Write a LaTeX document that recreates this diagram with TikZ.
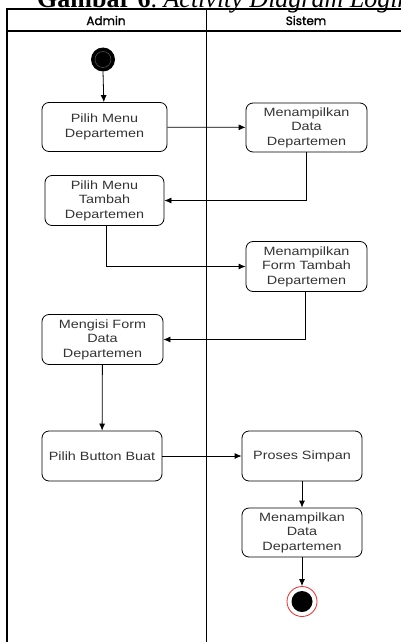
\documentclass[tikz,border=0pt]{standalone}
\usepackage{fontspec}
\setmainfont{Liberation Serif}
\newfontfamily\boxfont[FakeStretch=1.2]{Liberation Sans}
\newfontfamily\headfont[FakeBold=1.5]{Poppins}
\usepackage{tikz}
\usetikzlibrary{arrows.meta}
\definecolor{boxtext}{RGB}{51,51,51}
\definecolor{endred}{RGB}{240,40,40}

\tikzset{
	action/.style={draw, thick, rounded corners=7pt, align=center, text=boxtext,
		minimum height=49pt, inner sep=1pt,
		font=\boxfont\fontsize{12}{14.5}\selectfont},
	flow/.style={thick, -{Latex[length=7pt,width=6pt]}},
	lane/.style={line width=1.1pt},
	lanehead/.style={font=\headfont\fontsize{12}{12}\selectfont}
}

\begin{document}
\begin{tikzpicture}[x=1pt, y=-1pt]

	\useasboundingbox (0,0) rectangle (401,642);
	\clip (0,0) rectangle (401,642);

	% caption (cut off at the top and right)
	\node[anchor=base west, inner sep=0pt, font=\fontsize{26}{26}\selectfont] (caption) at (37,7.3)
		{\textbf{Gambar 6}.\ \textit{Activity Diagram Logika}};

	% swimlanes
	\draw[lane] (7,650) -- (7,9) -- (410,9);
	\draw[lane] (7,31) -- (410,31);
	\draw[lane] (206.5,9) -- (206.5,650);
	\node[lanehead] (admin) at (106,20.5) {Admin};
	\node[lanehead] (sistem) at (306,20.5) {Sistem};

	% start and end
	\fill (103,59.5) circle (12pt) coordinate (start);
	\draw[black!60, thin] (103,59.5) circle (8pt);
	\node[circle, draw=endred, thick, fill=white, minimum size=30pt, inner sep=0pt] (finish) at (302,601.5) {};
	\fill (finish) circle (10.5pt);

	% admin actions
	\node[action, minimum width=125pt] (menu) at (104.5,127) {Pilih Menu\\Departemen};
	\node[action, minimum width=119pt, minimum height=50pt] (tambah) at (104.5,200.5) {Pilih Menu\\Tambah\\Departemen};
	\node[action, minimum width=121pt, minimum height=50pt] (isi) at (102.5,339.5) {Mengisi Form\\Data\\Departemen};
	\node[action, minimum width=120pt, minimum height=50pt] (buat) at (102,456) {Pilih Button Buat};

	% sistem actions
	\node[action, minimum width=121pt] (tampil) at (306.5,127.5) {Menampilkan\\Data\\Departemen};
	\node[action, minimum width=121pt, minimum height=50pt] (form) at (306.5,266.5) {Menampilkan\\Form Tambah\\Departemen};
	\node[action, minimum width=120pt, minimum height=50pt] (simpan) at (302,456) {Proses Simpan};
	\node[action, minimum width=120pt] (hasil) at (302,532.5) {Menampilkan\\Data\\Departemen};

	% flows
	\draw[flow] (103,71.5) -- (menu);
	\draw[flow] (menu) -- (tampil);
	\draw[flow] (tampil.south) |- (tambah.east);
	\draw[flow] ([xshift=2pt]tambah.south) |- (form.west);
	\draw[flow] ([xshift=-1.5pt]form.south) |- (isi.east);
	\draw[flow] (isi) -- (buat);
	\draw[flow] (buat) -- (simpan);
	\draw[flow] (simpan) -- (hasil);
	\draw[flow] (hasil) -- (finish);

\end{tikzpicture}
\end{document}
